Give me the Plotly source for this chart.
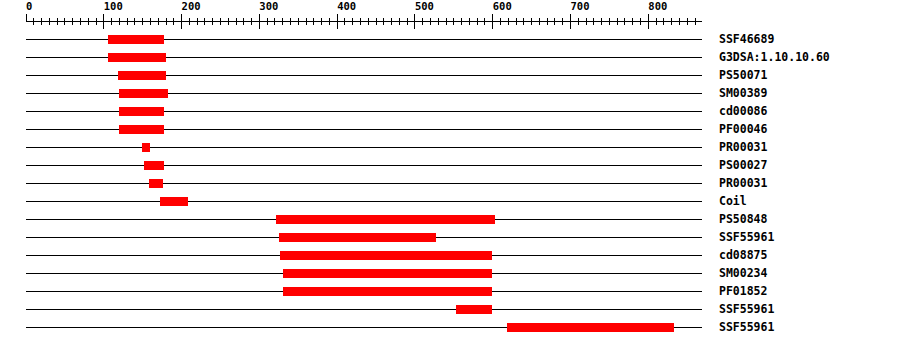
import plotly.graph_objects as go

labels = ["SSF46689", "G3DSA:1.10.10.60", "PS50071", "SM00389", "cd00086",
          "PF00046", "PR00031", "PS00027", "PR00031", "Coil", "PS50848",
          "SSF55961", "cd08875", "SM00234", "PF01852", "SSF55961", "SSF55961"]
starts = [105, 106, 118, 119, 120, 120, 149, 152, 158, 172, 322, 325, 326, 331, 331, 553, 618]
ends = [177, 180, 180, 183, 177, 177, 159, 177, 176, 208, 603, 527, 599, 599, 599, 599, 833]
tick_values = [0, 100, 200, 300, 400, 500, 600, 700, 800]
tick_labels = ["0", "100", "200", "300", "400", "500", "600", "700", "800"]
axis_max = 869

rows = list(range(len(labels)))
lengths = [e - s for s, e in zip(starts, ends)]
# left-align tick labels to their tick (monospace padding)
padded = ["\u00a0" * len(t) + t for t in tick_labels]

fig = go.Figure()
fig.add_trace(go.Bar(
    x=lengths, base=starts, y=rows, orientation="h", width=0.5,
    marker=dict(color="#ff0000", line=dict(width=0)),
    hoverinfo="skip", showlegend=False, xaxis="x", yaxis="y",
))
# invisible trace for the second (inside ticks) axis
fig.add_trace(go.Scatter(x=[0], y=[0], mode="markers", marker=dict(opacity=0),
                         xaxis="x2", yaxis="y", showlegend=False, hoverinfo="skip"))

axis_font = dict(family="DejaVu Sans Mono", size=10.5, color="black", weight="bold")
fig.update_layout(
    width=900, height=346,
    margin=dict(l=26, r=198, t=22, b=0, pad=0),
    paper_bgcolor="white", plot_bgcolor="white",
    bargap=0,
    xaxis=dict(
        range=[0, axis_max], side="top", showgrid=False, zeroline=False,
        showline=True, linecolor="black", linewidth=1,
        ticks="outside", ticklen=7, tickwidth=1, tickcolor="black",
        tickvals=tick_values, ticktext=padded, tickfont=axis_font,
        minor=dict(dtick=10, tick0=0, ticks="outside", ticklen=3, tickwidth=1,
                   tickcolor="black", showgrid=False),
        fixedrange=True,
    ),
    xaxis2=dict(
        range=[0, axis_max], side="top", overlaying="x", showgrid=False,
        zeroline=False, showline=False, showticklabels=False,
        ticks="inside", ticklen=7, tickwidth=1, tickcolor="black",
        tickvals=tick_values,
        minor=dict(dtick=10, tick0=0, ticks="inside", ticklen=3, tickwidth=1,
                   tickcolor="black", showgrid=False),
        fixedrange=True,
    ),
    yaxis=dict(
        range=[17.04, -0.96], side="right", showline=False, zeroline=False,
        tickvals=rows, ticktext=labels, ticks="", ticklabelstandoff=16,
        showgrid=True, gridcolor="black", gridwidth=1,
        tickfont=dict(family="DejaVu Sans Mono", size=11.5, color="black", weight="bold"),
        automargin=False, fixedrange=True,
    ),
)
fig.write_html("out.html")
